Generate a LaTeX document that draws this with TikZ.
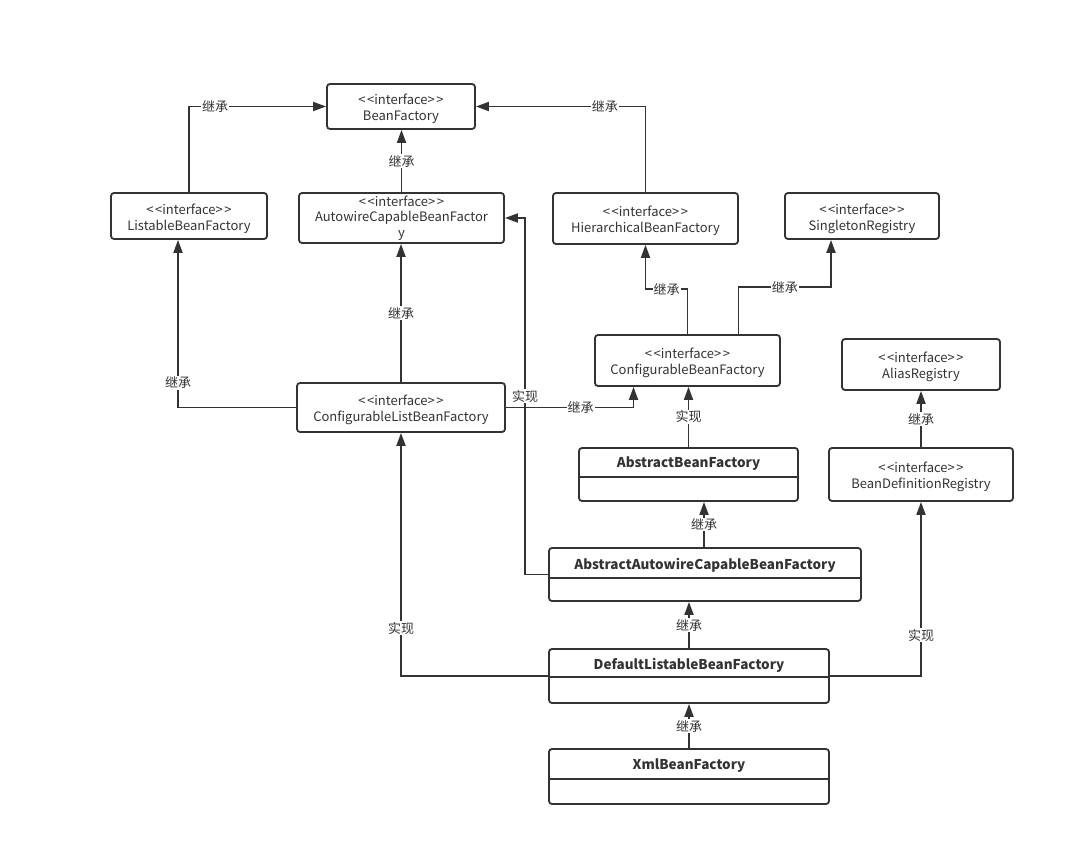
\documentclass[tikz,border=0pt]{standalone}
\usepackage{fontspec}
\setmainfont{Noto Sans CJK SC}
\usetikzlibrary{arrows.meta}
\definecolor{ink}{HTML}{333333}
\newcommand{\ifcplain}{<\hspace{1.5pt}<interface>\hspace{1.5pt}>}
\newcommand{\ifc}{\rule{0pt}{16pt}\ifcplain}
\begin{document}
\begin{tikzpicture}[x=1pt,y=-1pt,
  ibox/.style={draw=ink,line width=1.8pt,rounded corners=3pt,inner sep=0pt,align=center,
    font=\fontsize{13}{16}\selectfont,text=ink},
  cbox/.style={draw=ink,line width=1.8pt,rounded corners=3pt,inner sep=0pt},
  ctitle/.style={font=\fontsize{13.5}{15}\selectfont\bfseries,text=ink,inner sep=0pt},
  arr/.style={draw=ink,line width=1.8pt,-{Triangle[length=13pt,width=9pt]}},
  lbl/.style={fill=white,inner sep=1pt,font=\fontsize{13}{15}\selectfont,text=ink}
]
\useasboundingbox (0,0) rectangle (1075,866);
\fill[white] (0,0) rectangle (1075,866);

% interface boxes
\node[ibox,minimum width=148,minimum height=45] (bf) at (401,106.5) {\ifc\\BeanFactory};
\node[ibox,minimum width=156,minimum height=46] (lbf) at (189,216) {\ifc\\ListableBeanFactory};
\node[ibox,minimum width=205,minimum height=50,font=\fontsize{13}{15.5}\selectfont] (acbf) at (401.5,218) {\ifcplain\\AutowireCapableBeanFactor\\y};
\node[ibox,minimum width=185,minimum height=51] (hbf) at (645.5,218.5) {\ifc\\HierarchicalBeanFactory};
\node[ibox,minimum width=154,minimum height=46] (sr) at (862,216) {\ifc\\SingletonRegistry};
\node[ibox,minimum width=185,minimum height=51] (cbf) at (687.5,360.5) {\ifc\\ConfigurableBeanFactory};
\node[ibox,minimum width=158,minimum height=51] (ar) at (921,364.5) {\ifc\\AliasRegistry};
\node[ibox,minimum width=208,minimum height=49] (clbf) at (401,407.5) {\ifc\\ConfigurableListBeanFactory};
\node[ibox,minimum width=184,minimum height=53] (bdr) at (921,474.5) {\ifc\\BeanDefinitionRegistry};

% class boxes
\node[cbox,minimum width=219,minimum height=53] (abf) at (688.5,474.5) {};
\node[ctitle] (abft) at (688.5,464) {AbstractBeanFactory};
\draw[ink,line width=1.8pt] ([yshift=-30pt]abf.north west) -- ([yshift=-30pt]abf.north east);

\node[cbox,minimum width=312,minimum height=53] (aacbf) at (705,574.5) {};
\node[ctitle] (aacbft) at (705,565) {AbstractAutowireCapableBeanFactory};
\draw[ink,line width=1.8pt] ([yshift=-31pt]aacbf.north west) -- ([yshift=-31pt]aacbf.north east);

\node[cbox,minimum width=280,minimum height=54] (dlbf) at (689,676) {};
\node[ctitle] (dlbft) at (689,665) {DefaultListableBeanFactory};
\draw[ink,line width=1.8pt] ([yshift=-29pt]dlbf.north west) -- ([yshift=-29pt]dlbf.north east);

\node[cbox,minimum width=280,minimum height=55] (xml) at (689,776.5) {};
\node[ctitle] (xmlt) at (689,766) {XmlBeanFactory};
\draw[ink,line width=1.8pt] ([yshift=-31pt]xml.north west) -- ([yshift=-31pt]xml.north east);

% connectors
\draw[arr] (lbf.north) |- node[lbl,pos=0.595]{继承} (bf.west);
\draw[arr] (hbf.north) |- node[lbl,pos=0.62]{继承} (bf.east);
\draw[arr] (acbf.north) -- node[lbl,pos=0.5]{继承} (acbf.north |- bf.south);
\draw[arr] (clbf.north) -- node[lbl,pos=0.5]{继承} (clbf.north |- acbf.south);
\draw[arr] (clbf.west) -| node[lbl,pos=0.574]{继承} ([xshift=-11pt]lbf.south);
\draw[arr] (aacbf.west) -- ++(-23,0) |- node[lbl,pos=0.25]{实现} (acbf.east);
\draw[arr] (clbf.east) -| node[lbl,pos=0.293]{继承} ([xshift=-54pt]cbf.south);
\draw[arr] (cbf.north) -- ++(0,-45) -| node[lbl,pos=0.25]{继承} (hbf.south);
\draw[arr] ([xshift=51pt]cbf.north) -- ++(0,-47) -| node[lbl,pos=0.25]{继承} ([xshift=-31pt]sr.south);
\draw[arr] (abf.north) -- node[lbl,pos=0.5]{实现} (abf.north |- cbf.south);
\draw[arr] (bdr.north) -- node[lbl,pos=0.5]{继承} (ar.south);
\draw[arr] ([xshift=-1pt]aacbf.north) -- node[lbl,pos=0.5]{继承} ([xshift=-1pt]aacbf.north |- abf.south);
\draw[arr] (dlbf.north) -- node[lbl,pos=0.5]{继承} (dlbf.north |- aacbf.south);
\draw[arr] (dlbf.west) -| node[lbl,pos=0.598]{实现} (clbf.south);
\draw[arr] (dlbf.east) -| node[lbl,pos=0.617]{实现} (bdr.south);
\draw[arr] (xml.north) -- node[lbl,pos=0.5]{继承} (dlbf.south);
\end{tikzpicture}
\end{document}
